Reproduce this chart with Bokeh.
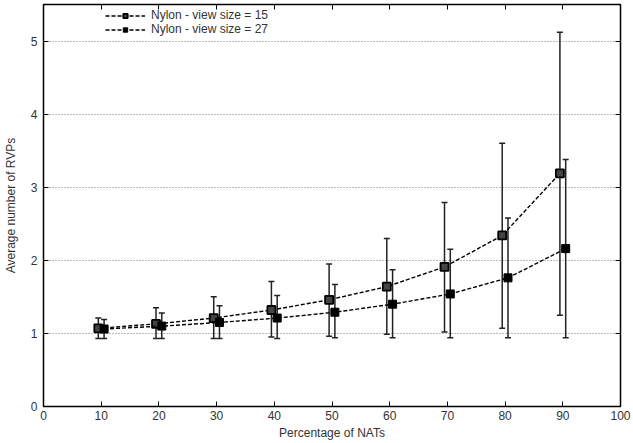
from bokeh.plotting import figure
from bokeh.models import (ColumnDataSource, Whisker, TeeHead, LinearAxis, Range1d,
                          FixedTicker, Legend, LegendItem)
from bokeh.embed import file_html
from bokeh.resources import INLINE

# Data
nat_pct = [10, 20, 30, 40, 50, 60, 70, 80, 90]
mean_15 = [1.07, 1.13, 1.21, 1.32, 1.46, 1.64, 1.91, 2.34, 3.19]
low_15 = [0.93, 0.93, 0.93, 0.95, 0.96, 0.99, 1.02, 1.07, 1.25]
high_15 = [1.21, 1.35, 1.50, 1.71, 1.95, 2.30, 2.79, 3.60, 5.12]
mean_27 = [1.06, 1.10, 1.15, 1.21, 1.29, 1.40, 1.54, 1.76, 2.16]
low_27 = [0.93, 0.93, 0.93, 0.93, 0.94, 0.94, 0.94, 0.94, 0.94]
high_27 = [1.19, 1.28, 1.38, 1.52, 1.67, 1.87, 2.15, 2.58, 3.38]
x_ticks = [0, 10, 20, 30, 40, 50, 60, 70, 80, 90, 100]
y_ticks = [0, 1, 2, 3, 4, 5]
offset_15 = -0.5
offset_27 = 0.5

FONT = "Liberation Sans"

p = figure(width=633, height=443, output_backend="svg", toolbar_location=None,
           x_range=Range1d(0, 100), y_range=Range1d(0, 5.5),
           min_border_left=43, min_border_right=13, min_border_top=4, min_border_bottom=37)
p.outline_line_color = "black"
p.outline_line_width = 1.5
p.background_fill_color = "white"
p.border_fill_color = "white"

# Axes
for ax in p.xaxis + p.yaxis:
    ax.major_tick_in = 5
    ax.major_tick_out = 0
    ax.minor_tick_line_color = None
    ax.axis_line_color = None
    ax.major_tick_line_color = "black"
    ax.major_label_text_font = FONT
    ax.major_label_text_font_size = "12px"
    ax.major_label_text_color = "#333333"
    ax.axis_label_text_font = FONT
    ax.axis_label_text_font_size = "12px"
    ax.axis_label_text_font_style = "normal"
    ax.axis_label_text_color = "#333333"
p.xaxis.ticker = FixedTicker(ticks=x_ticks)
p.yaxis.ticker = FixedTicker(ticks=y_ticks)
p.xaxis.axis_label = "Percentage of NATs"
p.yaxis.axis_label = "Average number of RVPs"
p.xaxis.major_label_standoff = 4
p.yaxis.major_label_standoff = 6
p.xaxis.axis_label_standoff = 3
p.yaxis.axis_label_standoff = 10

top_ax = LinearAxis(ticker=FixedTicker(ticks=x_ticks),
                    major_label_overrides={t: "" for t in x_ticks},
                    major_tick_in=5, major_tick_out=0, minor_tick_line_color=None,
                    axis_line_color=None, major_label_standoff=0)
right_ax = LinearAxis(ticker=FixedTicker(ticks=y_ticks),
                      major_label_overrides={t: "" for t in y_ticks},
                      major_tick_in=5, major_tick_out=0, minor_tick_line_color=None,
                      axis_line_color=None, major_label_standoff=0)
p.add_layout(top_ax, "above")
p.add_layout(right_ax, "right")

p.xgrid.grid_line_color = None
p.ygrid.ticker = FixedTicker(ticks=[1, 2, 3, 4, 5])
p.ygrid.grid_line_color = "#777777"
p.ygrid.grid_line_dash = "1 2"
p.ygrid.grid_line_width = 1

x15 = [x + offset_15 for x in nat_pct]
x27 = [x + offset_27 for x in nat_pct]
src15 = ColumnDataSource(dict(x=x15, y=mean_15, lo=low_15, hi=high_15))
src27 = ColumnDataSource(dict(x=x27, y=mean_27, lo=low_27, hi=high_27))

for src in (src15, src27):
    w = Whisker(source=src, base="x", lower="lo", upper="hi", dimension="height",
                line_color="#222222", line_width=1.5,
                lower_head=TeeHead(size=6, line_color="#222222", line_width=1.5),
                upper_head=TeeHead(size=6, line_color="#222222", line_width=1.5))
    p.add_layout(w)

l15 = p.line("x", "y", source=src15, line_color="black", line_dash="4 2", line_width=1.4)
m15 = p.scatter("x", "y", source=src15, marker="square", size=8, fill_color="#444444",
                line_color="black", line_width=1.8)
l27 = p.line("x", "y", source=src27, line_color="black", line_dash="4 2", line_width=1.4)
m27 = p.scatter("x", "y", source=src27, marker="square", size=8, fill_color="black",
                line_color="black")

legend = Legend(items=[LegendItem(label="Nylon - view size = 15", renderers=[l15, m15]),
                       LegendItem(label="Nylon - view size = 27", renderers=[l27, m27])],
                location=(62, 370), orientation="vertical",
                background_fill_alpha=0, border_line_color=None,
                label_text_font=FONT, label_text_font_size="12px", label_text_color="#333333",
                glyph_width=40, glyph_height=11, label_height=11, spacing=0, padding=2,
                margin=0, label_standoff=6)
p.add_layout(legend, "center")

open("out.html", "w").write(file_html(p, INLINE))
